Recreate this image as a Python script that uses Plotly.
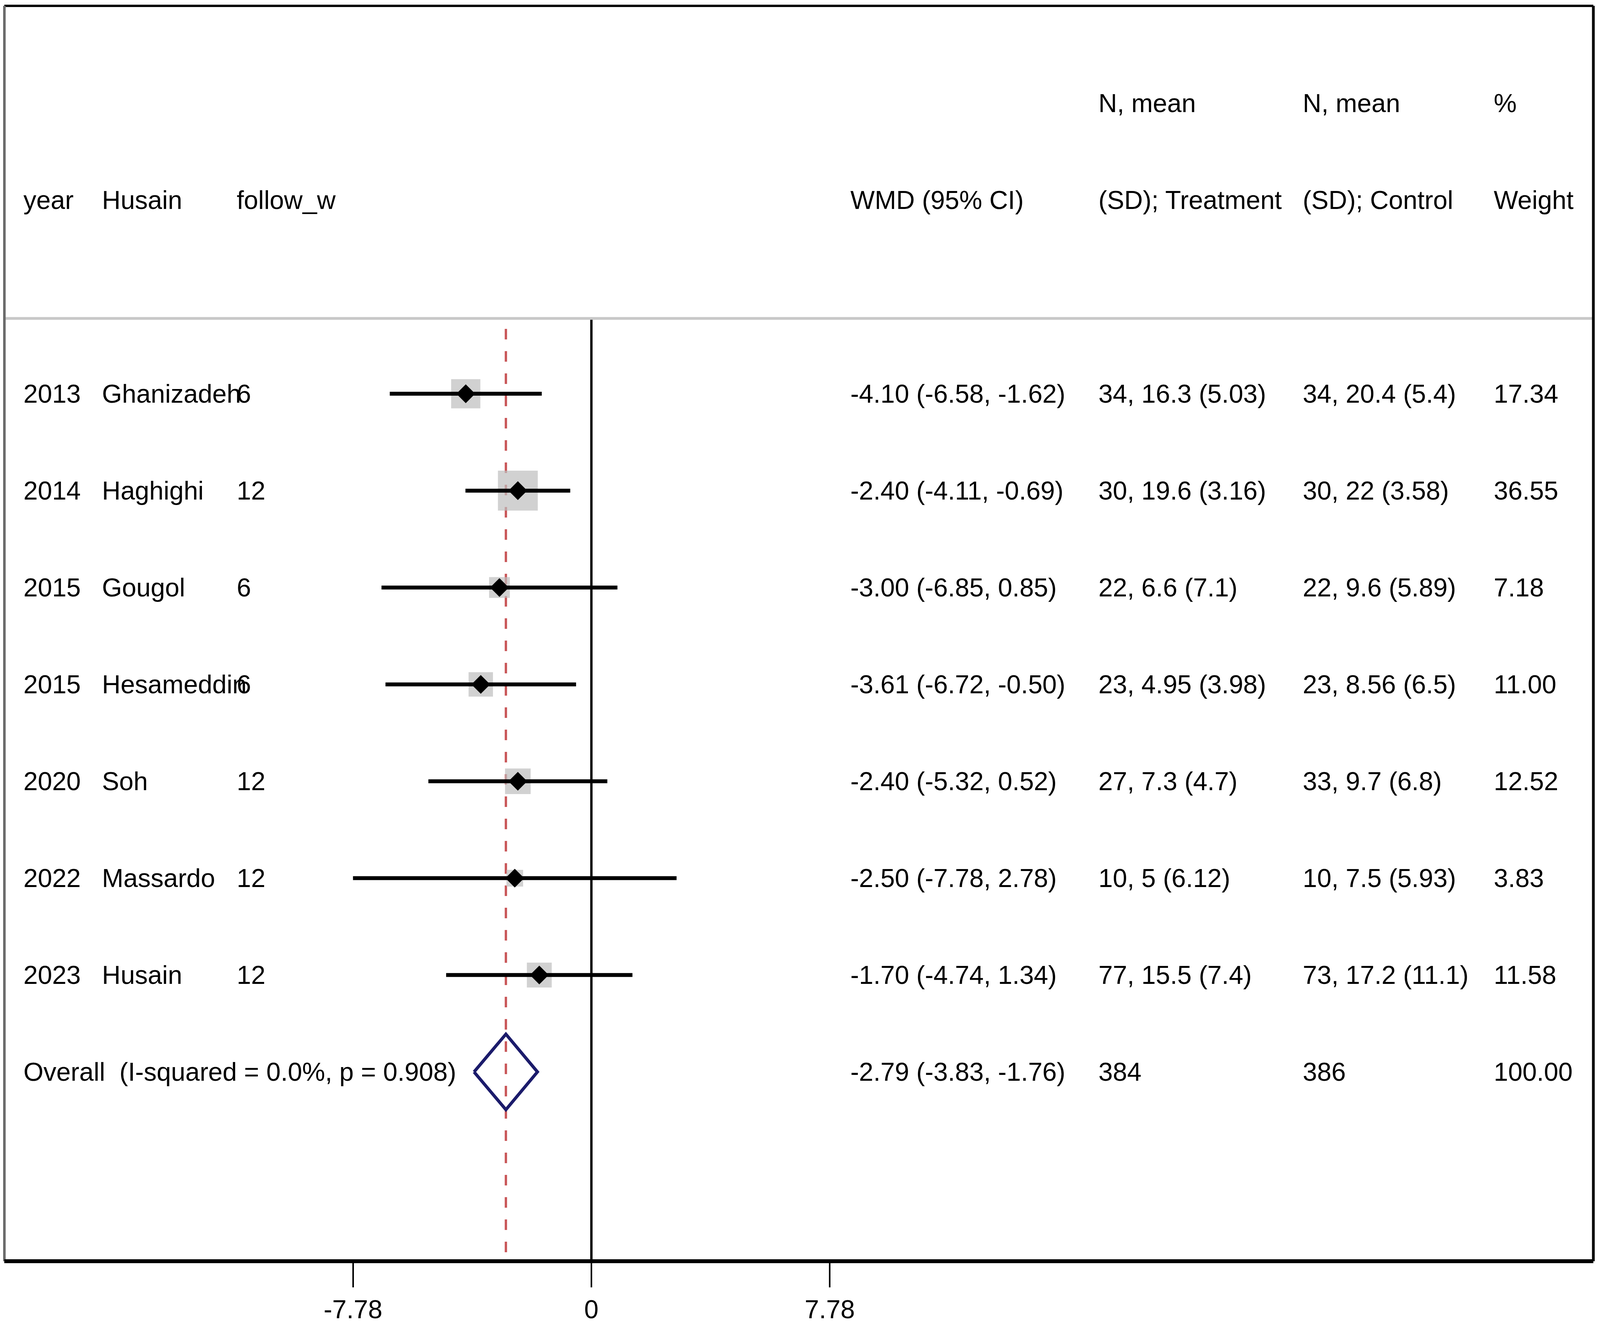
import plotly.graph_objects as go

# ---------------- data ----------------
years = ["2013", "2014", "2015", "2015", "2020", "2022", "2023"]
authors = ["Ghanizadeh", "Haghighi", "Gougol", "Hesameddin", "Soh", "Massardo", "Husain"]
follow_w = ["6", "12", "6", "6", "12", "12", "12"]
wmd = [-4.10, -2.40, -3.00, -3.61, -2.40, -2.50, -1.70]
ci_low = [-6.58, -4.11, -6.85, -6.72, -5.32, -7.78, -4.74]
ci_high = [-1.62, -0.69, 0.85, -0.50, 0.52, 2.78, 1.34]
treatment = ["34, 16.3 (5.03)", "30, 19.6 (3.16)", "22, 6.6 (7.1)", "23, 4.95 (3.98)",
             "27, 7.3 (4.7)", "10, 5 (6.12)", "77, 15.5 (7.4)"]
control = ["34, 20.4 (5.4)", "30, 22 (3.58)", "22, 9.6 (5.89)", "23, 8.56 (6.5)",
           "33, 9.7 (6.8)", "10, 7.5 (5.93)", "73, 17.2 (11.1)"]
weights = [17.34, 36.55, 7.18, 11.00, 12.52, 3.83, 11.58]

overall_label = "Overall\u00a0 (I-squared = 0.0%, p = 0.908)"
overall_wmd = -2.79
overall_low = -3.83
overall_high = -1.76
overall_treat = "384"
overall_ctrl = "386"
overall_weight = "100.00"

tick_vals = [-7.78, 0, 7.78]
tick_text = ["-7.78", "0", "7.78"]

# ---------------- layout constants ----------------
# The page is shown in a 4096 px wide viewport (with the 8 px body margin),
# so the figure is sized to fit it.
W, H = 4080, 3384
L, R, T, B = 3, 9, 7, 144
S = 0.955  # size scale for marks relative to a 4328 px canvas
XR = [-19.16, 32.70]
YR = [8.954, -4.004]
HEADER_LINE_Y = -0.778
FONT = dict(family="Liberation Sans, Arial, sans-serif", size=66, color="black")

rows = list(range(len(authors)))
overall_row = len(authors)

fig = go.Figure()

# weight boxes
box_sizes = [S * (15 + 15.2 * (w ** 0.5)) for w in weights]
fig.add_trace(go.Scatter(
    x=wmd, y=rows, mode="markers",
    marker=dict(symbol="square", size=box_sizes, color="#bdbdbd", line=dict(width=0)),
    hoverinfo="skip", showlegend=False, cliponaxis=False))

# CI lines
cx, cy = [], []
for lo, hi, r in zip(ci_low, ci_high, rows):
    cx += [lo, hi, None]
    cy += [r, r, None]
fig.add_trace(go.Scatter(x=cx, y=cy, mode="lines",
                         line=dict(color="black", width=10),
                         hoverinfo="skip", showlegend=False))

# point estimates
fig.add_trace(go.Scatter(
    x=wmd, y=rows, mode="markers",
    marker=dict(symbol="diamond", size=37, color="black", line=dict(width=0)),
    hoverinfo="skip", showlegend=False))

# overall diamond
dh = 0.39
fig.add_trace(go.Scatter(
    x=[overall_low, overall_wmd, overall_high, overall_wmd, overall_low],
    y=[overall_row, overall_row - dh, overall_row, overall_row + dh, overall_row],
    mode="lines", line=dict(color="#1b1b6b", width=8),
    hoverinfo="skip", showlegend=False))

# ---------------- shapes ----------------
shapes = []
shapes.append(dict(type="line", xref="x", yref="y", x0=0, x1=0,
                   y0=HEADER_LINE_Y, y1=YR[0], line=dict(color="black", width=6),
                   layer="below"))
shapes.append(dict(type="line", xref="x", yref="y", x0=overall_wmd, x1=overall_wmd,
                   y0=-0.67, y1=YR[0], line=dict(color="#c9585a", width=6, dash="27px,30px"),
                   layer="below"))
shapes.append(dict(type="line", xref="paper", yref="y", x0=0, x1=1,
                   y0=HEADER_LINE_Y, y1=HEADER_LINE_Y, line=dict(color="#c8c8c8", width=7)))
shapes.append(dict(type="line", xref="paper", yref="paper", x0=0, x1=1, y0=1, y1=1,
                   line=dict(color="black", width=6)))
shapes.append(dict(type="line", xref="paper", yref="paper", x0=0, x1=0, y0=0, y1=1,
                   line=dict(color="#6b6b6b", width=7)))
shapes.append(dict(type="line", xref="paper", yref="paper", x0=1, x1=1, y0=0, y1=1,
                   line=dict(color="black", width=7)))
shapes.append(dict(type="line", xref="paper", yref="paper", x0=0, x1=1, y0=0, y1=0,
                   line=dict(color="black", width=10)))

# ---------------- text ----------------
REF_L, REF_W = 11, 4299  # frame in reference pixels
def px2paper(px):
    return (px - REF_L) / REF_W

col_x = {
    "year": px2paper(61), "author": px2paper(273), "follow": px2paper(638),
    "wmd": px2paper(2298), "treat": px2paper(2969), "ctrl": px2paper(3522),
    "weight": px2paper(4038),
}

annotations = []
def txt(col, y, s):
    annotations.append(dict(xref="paper", yref="y", x=col_x[col], y=y, text=s,
                            showarrow=False, xanchor="left", yanchor="middle",
                            font=FONT))

txt("year", -2, "year")
txt("author", -2, "Husain")
txt("follow", -2, "follow_w")
txt("wmd", -2, "WMD (95% CI)")
txt("treat", -3, "N, mean")
txt("treat", -2, "(SD); Treatment")
txt("ctrl", -3, "N, mean")
txt("ctrl", -2, "(SD); Control")
txt("weight", -3, "%")
txt("weight", -2, "Weight")

for i in rows:
    txt("year", i, years[i])
    txt("author", i, authors[i])
    txt("follow", i, follow_w[i])
    txt("wmd", i, f"{wmd[i]:.2f} ({ci_low[i]:.2f}, {ci_high[i]:.2f})")
    txt("treat", i, treatment[i])
    txt("ctrl", i, control[i])
    txt("weight", i, f"{weights[i]:.2f}")

txt("year", overall_row, overall_label)
txt("wmd", overall_row, f"{overall_wmd:.2f} ({overall_low:.2f}, {overall_high:.2f})")
txt("treat", overall_row, overall_treat)
txt("ctrl", overall_row, overall_ctrl)
txt("weight", overall_row, overall_weight)

fig.update_layout(
    width=W, height=H,
    margin=dict(l=L, r=R, t=T, b=B, pad=0),
    paper_bgcolor="white", plot_bgcolor="white",
    showlegend=False,
    shapes=shapes, annotations=annotations,
    xaxis=dict(range=XR, tickvals=tick_vals, ticktext=tick_text,
               ticks="outside", ticklen=66, tickwidth=4, tickcolor="black",
               showgrid=False, zeroline=False, showline=False,
               tickfont=FONT, fixedrange=True),
    yaxis=dict(range=YR, visible=False, showgrid=False, zeroline=False, fixedrange=True),
)

fig.write_html("out.html")
